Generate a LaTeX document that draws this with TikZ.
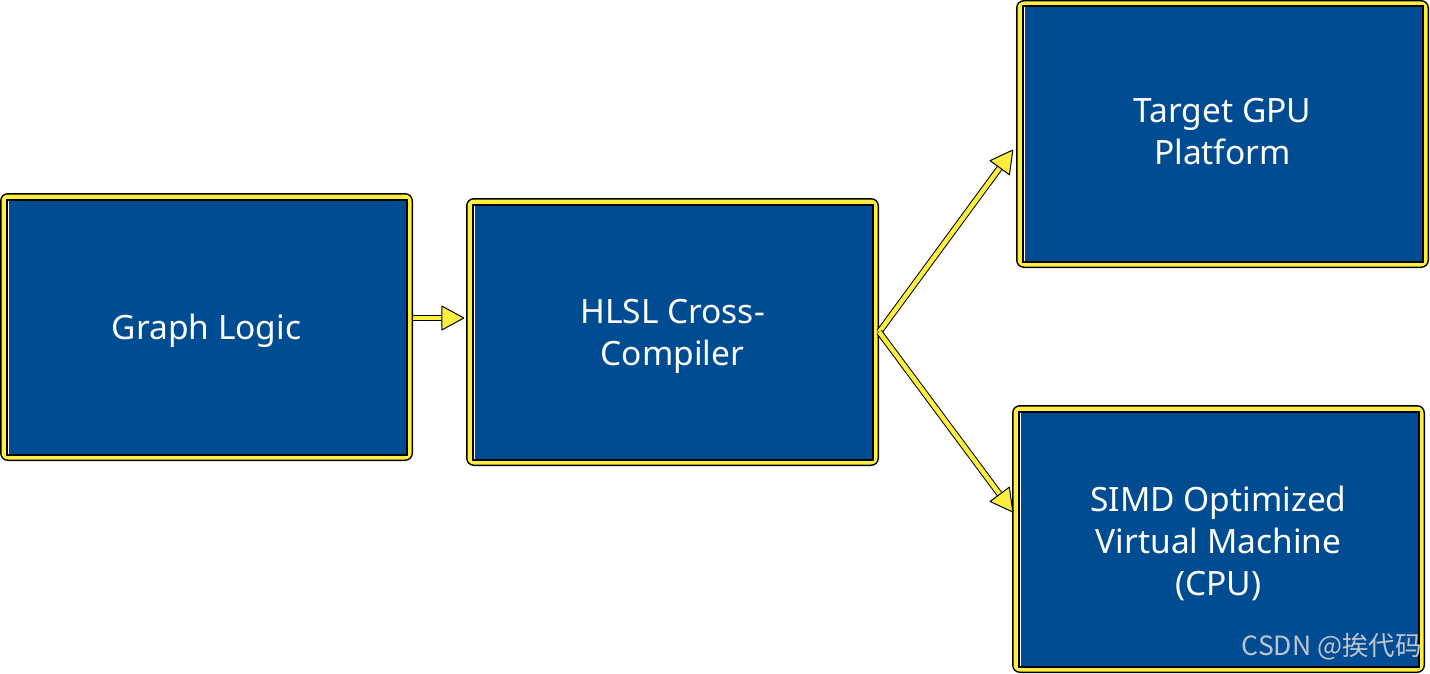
\documentclass[tikz,border=0pt]{standalone}
\usepackage{fontspec}
\setmainfont{Noto Sans}
\newfontfamily\cjk{Noto Sans CJK SC}
\usetikzlibrary{calc}
\definecolor{boxblue}{RGB}{0,76,147}
\definecolor{boxyellow}{RGB}{252,238,60}
\definecolor{wmgray}{RGB}{190,196,206}
\tikzset{
  boxtext/.style={text=white, align=center, inner sep=0pt,
    font=\fontsize{33.5}{42}\selectfont},
  shaft/.style={draw=black, line width=1, double=boxyellow, double distance=4.5},
  head/.style={fill=boxyellow, draw=black, line width=1, line join=round},
}
\newcommand\mybox[7]{%
  \fill[black, rounded corners=8] (#2,#3) rectangle (#4,#5);
  \fill[boxyellow, rounded corners=6.5] (#2+1.5,#3+1.5) rectangle (#4-1.5,#5-1.5);
  \fill[black] (#2+5.5,#3+5.5) rectangle (#4-5.5,#5-5.5);
  \fill[white] (#2+7.5,#3+7.5) rectangle (#4-7.5,#5-7.5);
  \fill[boxblue] (#2+8.5,#3+7.5) rectangle (#4-7.5,#5-7.5);
  \node[boxtext, minimum width={#4-#2}, minimum height={#5-#3}] (#1)
    at ({(#2+#4)/2},{(#3+#5)/2}) {};
  \node[boxtext, yshift=#7pt] (#1text) at (#1.center) {#6};
}
\newcommand\yarrow[2]{%
  \draw[shaft, shorten >=20] (#1) -- (#2);
  \coordinate (B) at ($(#2)!22pt!(#1)$);
  \path[head] (#2) -- ($(B)!12pt!90:(#2)$) -- ($(B)!12pt!-90:(#2)$) -- cycle;
}
\begin{document}
\begin{tikzpicture}[x=1pt, y=-1pt]
\useasboundingbox (0,0) rectangle (1430,674);
\mybox{b1}{0}{193}{413}{461}{Graph Logic}{-4}
\mybox{b2}{466}{198}{879}{466}{HLSL Cross-\\Compiler}{-4}
\mybox{b3}{1016}{0}{1429}{268}{Target GPU\\Platform}{2.5}
\mybox{b4}{1012}{405}{1425}{673}{SIMD Optimized\\Virtual Machine\\(CPU)}{-4}
\coordinate (a1s) at ($(b1.east)+(0,-9)$);
\coordinate (a1t) at ($(b2.west)+(-2,-14)$);
\coordinate (a2s) at (b2.east);
\coordinate (a2t) at ($(b3.west)+(-3,16)$);
\coordinate (a3t) at ($(b4.west)+(1,-27)$);
\yarrow{a1s}{a1t}
\yarrow{a2s}{a2t}
\yarrow{a2s}{a3t}
\node[text=wmgray, font=\cjk\fontsize{26.5}{30}\selectfont, anchor=east, inner sep=0pt] (wm) at (1422,647) {CSDN @挨代码};
\end{tikzpicture}
\end{document}
